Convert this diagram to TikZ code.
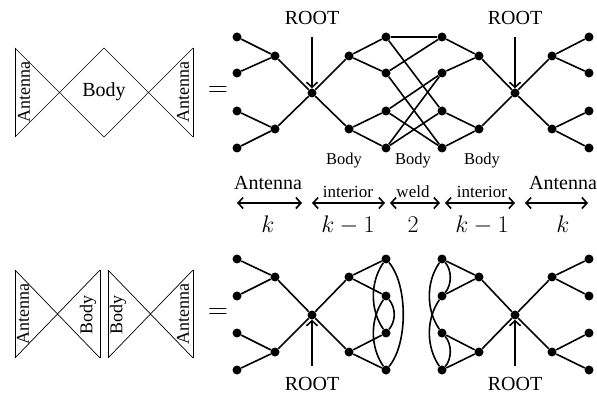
\RequirePackage{fix-cm}
\documentclass[tikz,border=0pt]{standalone}
\usepackage[no-math]{fontspec}
\setmainfont{Liberation Serif}
\usetikzlibrary{arrows.meta}
\begin{document}
\begin{tikzpicture}[x=1pt,y=-1pt,
  dot/.style={circle,fill=black,inner sep=0pt,minimum size=9pt},
  edge/.style={line width=1.6pt},
  bow/.style={line width=0.7pt},
  lbl/.style={inner sep=0pt,font=\fontsize{20}{24}\selectfont},
  rlbl/.style={inner sep=0pt,rotate=90,font=\fontsize{18}{22}\selectfont},
  small/.style={inner sep=0pt,anchor=base,font=\fontsize{17}{20}\selectfont},
  blbl/.style={inner sep=0pt,anchor=base,font=\fontsize{16.5}{20}\selectfont},
  mlbl/.style={inner sep=0pt,anchor=base,font=\fontsize{24}{28}\selectfont},
  rootarr/.style={-{Straight Barb[length=5pt,width=11pt]},line width=1.6pt},
  dblarr/.style={{Straight Barb[length=5pt,width=11pt]}-{Straight Barb[length=5pt,width=11pt]},line width=1.6pt}]
\useasboundingbox (0,0) rectangle (597,395);

% ---------- top bowtie ----------
\draw[bow] (15,48) -- (15,137);
\draw[bow] (15,48) -- (104,137);
\draw[bow] (15,137) -- (104,48);
\draw[bow] (104,48) -- (193,137);
\draw[bow] (104,137) -- (193,48);
\draw[bow] (193,48) -- (193,137);
\node[rlbl] (tant1) at (24,92) {Antenna};
\node[lbl] (tbody) at (104,92) {Body};
\node[rlbl] (tant2) at (183,92) {Antenna};
\node[inner sep=0pt] (teq) at (218,92) {\fontsize{28}{32}\selectfont$=$};

% ---------- bottom bowties ----------
\draw[bow] (15,270) -- (15,358);
\draw[bow] (15,270) -- (100,358);
\draw[bow] (15,358) -- (100,270);
\draw[bow] (100,270) -- (100,358);
\draw[bow] (108,270) -- (108,358);
\draw[bow] (108,270) -- (193,358);
\draw[bow] (108,358) -- (193,270);
\draw[bow] (193,270) -- (193,358);
\node[rlbl] (bant1) at (23,314) {Antenna};
\node[rlbl] (bbody1) at (88,315) {Body};
\node[rlbl] (bbody2) at (118,315) {Body};
\node[rlbl] (bant2) at (183,314) {Antenna};
\node[inner sep=0pt] (beq) at (218,314) {\fontsize{28}{32}\selectfont$=$};

% ---------- top graph nodes ----------
\foreach \i/\y in {1/37,2/73,3/111,4/148}{
  \node[dot] (TL\i) at (237,\y) {};
  \node[dot] (TC\i) at (386,\y) {};
  \node[dot] (TD\i) at (442,\y) {};
  \node[dot] (TG\i) at (589,\y) {};
}
\foreach \i/\y in {1/56,2/129}{
  \node[dot] (TA\i) at (275,\y) {};
  \node[dot] (TB\i) at (349,\y) {};
  \node[dot] (TE\i) at (479,\y) {};
  \node[dot] (TF\i) at (552,\y) {};
}
\node[dot] (TR) at (312,93) {};
\node[dot] (TS) at (515,93) {};

\draw[edge] (TL1) -- (TA1) -- (TL2);
\draw[edge] (TL3) -- (TA2) -- (TL4);
\draw[edge] (TA1) -- (TR) -- (TA2);
\draw[edge] (TB1) -- (TR) -- (TB2);
\draw[edge] (TC1) -- (TB1) -- (TC2);
\draw[edge] (TC3) -- (TB2) -- (TC4);
\draw[edge] (TC1) -- (TD1);
\draw[edge] (TC1) -- (TD3);
\draw[edge] (TC2) -- (TD1);
\draw[edge] (TC2) -- (TD4);
\draw[edge] (TC3) -- (TD2);
\draw[edge] (TC3) -- (TD4);
\draw[edge] (TC4) -- (TD2);
\draw[edge] (TC4) -- (TD3);
\draw[edge] (TD1) -- (TE1) -- (TD2);
\draw[edge] (TD3) -- (TE2) -- (TD4);
\draw[edge] (TE1) -- (TS) -- (TE2);
\draw[edge] (TF1) -- (TS) -- (TF2);
\draw[edge] (TG1) -- (TF1) -- (TG2);
\draw[edge] (TG3) -- (TF2) -- (TG4);

\node[lbl,anchor=base] (root1) at (312,25) {ROOT};
\node[lbl,anchor=base] (root2) at (515,25) {ROOT};
\coordinate (ra1) at (312,37);
\coordinate (ra2) at (515,37);
\draw[rootarr] (ra1) -- (TR);
\draw[rootarr] (ra2) -- (TS);

\node[blbl] (body1) at (344,165) {Body};
\node[blbl] (body2) at (413,165) {Body};
\node[blbl] (body3) at (482,165) {Body};

% ---------- length arrows ----------
\coordinate (a1l) at (237,203); \coordinate (a1r) at (302,203);
\coordinate (a2l) at (312,203); \coordinate (a2r) at (385,203);
\coordinate (a3l) at (390,203); \coordinate (a3r) at (440,203);
\coordinate (a4l) at (445,203); \coordinate (a4r) at (515,203);
\coordinate (a5l) at (525,203); \coordinate (a5r) at (588,203);
\draw[dblarr] (a1l) -- (a1r);
\draw[dblarr] (a2l) -- (a2r);
\draw[dblarr] (a3l) -- (a3r);
\draw[dblarr] (a4l) -- (a4r);
\draw[dblarr] (a5l) -- (a5r);
\node[lbl,anchor=base] (l1) at (268,190) {Antenna};
\node[small] (l2) at (348,198) {interior};
\node[small] (l3) at (413,198) {weld};
\node[small] (l4) at (482,198) {interior};
\node[lbl,anchor=base] (l5) at (563,190) {Antenna};
\node[mlbl] (m1) at (268,233) {$k$};
\node[mlbl] (m2) at (348,233) {$k-1$};
\node[mlbl] (m3) at (413,233) {$2$};
\node[mlbl] (m4) at (482,233) {$k-1$};
\node[mlbl] (m5) at (563,233) {$k$};

% ---------- bottom graph nodes ----------
\foreach \i/\y in {1/259,2/296,3/333,4/370}{
  \node[dot] (BL\i) at (237,\y) {};
  \node[dot] (BC\i) at (386,\y) {};
  \node[dot] (BD\i) at (442,\y) {};
  \node[dot] (BG\i) at (589,\y) {};
}
\foreach \i/\y in {1/277,2/352}{
  \node[dot] (BA\i) at (275,\y) {};
  \node[dot] (BB\i) at (349,\y) {};
  \node[dot] (BE\i) at (479,\y) {};
  \node[dot] (BF\i) at (552,\y) {};
}
\node[dot] (BR) at (312,315) {};
\node[dot] (BS) at (515,315) {};

\draw[edge] (BL1) -- (BA1) -- (BL2);
\draw[edge] (BL3) -- (BA2) -- (BL4);
\draw[edge] (BA1) -- (BR) -- (BA2);
\draw[edge] (BB1) -- (BR) -- (BB2);
\draw[edge] (BC1) -- (BB1) -- (BC2);
\draw[edge] (BC3) -- (BB2) -- (BC4);
\draw[edge] (BD1) -- (BE1) -- (BD2);
\draw[edge] (BD3) -- (BE2) -- (BD4);
\draw[edge] (BE1) -- (BS) -- (BE2);
\draw[edge] (BF1) -- (BS) -- (BF2);
\draw[edge] (BG1) -- (BF1) -- (BG2);
\draw[edge] (BG3) -- (BF2) -- (BG4);

% left self-weld
\draw[edge] (BC1) .. controls (408,285) and (408,344) .. (BC4);
\draw[edge] (BC2) .. controls (396,308) and (396,321) .. (BC3);
\draw[edge] (BC1) .. controls (370,282) and (370,310) .. (BC3);
\draw[edge] (BC2) .. controls (370,319) and (370,347) .. (BC4);
% right self-weld
\draw[edge] (BD1) .. controls (452,270) and (452,285) .. (BD2);
\draw[edge] (BD3) .. controls (452,344) and (452,359) .. (BD4);
\draw[edge] (BD1) .. controls (426,282) and (426,310) .. (BD3);
\draw[edge] (BD2) .. controls (426,319) and (426,347) .. (BD4);

\node[lbl,anchor=base] (root3) at (312,390) {ROOT};
\node[lbl,anchor=base] (root4) at (515,390) {ROOT};
\coordinate (rb1) at (312,366);
\coordinate (rb2) at (515,366);
\draw[rootarr] (rb1) -- (BR);
\draw[rootarr] (rb2) -- (BS);
\end{tikzpicture}
\end{document}
